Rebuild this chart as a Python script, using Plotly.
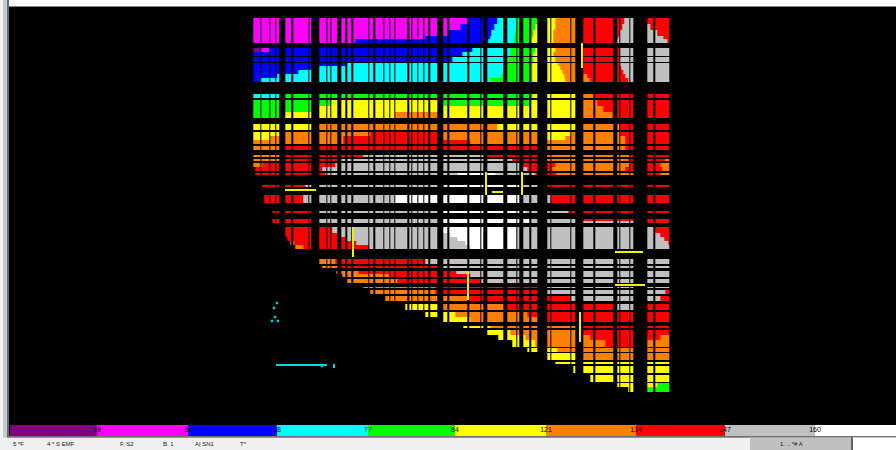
import plotly.graph_objects as go

# class ids of the map legend
P, M, B, C, G, Y, O, R, S, W = range(10)
N = None
class_colors = ["#800080", "#ff00ff", "#0000ff", "#00ffff", "#00ff00",
                "#ffff00", "#ff8000", "#ff0000", "#c0c0c0", "#ffffff"]

# grid cells along x and y (map units)
col_start = [253.3, 261.3, 270.7, 276.7, 285.3, 293.3, 309.3, 319.3, 327.3, 331.3, 341.3, 347.3, 353.3, 369.3,
             375.3, 384.7, 390.7, 395.3, 409.3, 412.7, 418.7, 424.7, 430, 443.3, 449.3, 469.3, 481.3, 487.3,
             507.3, 517.3, 523.3, 531.3, 547.3, 551.3, 571.3, 583.3, 595.3, 617.3, 620.7, 630.7, 647.3, 655]
col_end = [260, 269.3, 275.3, 279.3, 291.7, 308.3, 311.7, 326, 330, 337.7, 345.7, 351.7, 368.3, 373.7,
           383.7, 389.7, 394, 407.7, 411.7, 417.3, 423.3, 428.7, 437.7, 447.7, 467.7, 480, 483.3, 503.3,
           516, 519.3, 529.3, 537.3, 550, 570, 575.3, 593.3, 613.3, 619.3, 629.3, 633.3, 653.3, 669.5]
row_start = [18.3, 48.3, 57, 62.5, 94, 100, 124, 131.7, 145.7, 155.3, 159.3, 163.3, 173.3, 185.3, 195.3, 211,
             219, 227.3, 258.7, 266, 270.7, 278.7, 286.7, 290, 296, 304.3, 312, 326, 330, 348.3, 353.3, 362,
             366, 375.3, 383.3]
row_end = [42.7, 56, 61.7, 82, 98, 118, 130, 144, 150, 157.3, 161.3, 171.3, 175.3, 187.3, 203.3, 213.3,
           223.3, 249, 264, 268.3, 277.3, 282.7, 288.3, 294, 300.7, 310, 322, 328.3, 346.7, 351.7, 360, 364,
           373.3, 381.7, 391.7]

# class runs (class, run end) for each horizontal strip
strip_top = [18, 24, 30, 36, 39, 48, 52, 57, 62, 66, 70, 74, 78, 94, 100, 106, 112, 124, 131, 136, 140, 145,
             155, 159, 163, 167, 173, 185, 195, 211, 219, 221, 227, 233, 237, 241, 245, 258, 266, 270, 274, 278,
             286, 290, 296, 304, 312, 317, 326, 330, 335, 340, 348, 353, 362, 366, 375, 383, 387]
strip_bottom = strip_top[1:] + [392]
strip_runs = [
    [(M, 467), (B, 497), (C, 517), (G, 537), (Y, 555), (O, 580), (R, 624), (S, 640), (R, 671)],
    [(M, 460), (B, 494), (C, 517), (G, 535), (Y, 555), (O, 580), (R, 622), (S, 650), (R, 671)],
    [(M, 447), (B, 491), (C, 515), (G, 533), (Y, 553), (O, 580), (R, 620), (S, 657), (R, 671)],
    [(M, 425), (B, 490), (C, 514), (G, 532), (Y, 553), (O, 580), (R, 618), (S, 663), (R, 671)],
    [(M, 355), (B, 488), (C, 514), (G, 531), (Y, 553), (O, 580), (R, 617), (S, 667), (R, 671)],
    [(P, 261), (M, 270), (B, 472), (C, 510), (G, 535), (Y, 555), (O, 580), (R, 620), (S, 671)],
    [(B, 462), (C, 510), (G, 533), (Y, 553), (O, 580), (R, 620), (S, 671)],
    [(B, 452), (C, 508), (G, 533), (Y, 555), (O, 580), (R, 620), (S, 671)],
    [(B, 347), (C, 507), (G, 532), (Y, 558), (O, 580), (R, 620), (S, 671)],
    [(B, 318), (C, 507), (G, 532), (Y, 560), (O, 580), (R, 621), (S, 671)],
    [(B, 298), (C, 506), (G, 532), (Y, 562), (O, 580), (R, 623), (S, 671)],
    [(B, 277), (C, 501), (G, 532), (Y, 564), (O, 587), (R, 625), (S, 671)],
    [(B, 260), (C, 490), (G, 532), (Y, 565), (O, 590), (R, 628), (S, 671)],
    [(C, 279), (G, 532), (Y, 580), (O, 595), (R, 671)],
    [(G, 330), (Y, 440), (G, 530), (Y, 580), (O, 597), (R, 671)],
    [(G, 312), (Y, 580), (O, 603), (R, 671)],
    [(G, 285), (Y, 395), (O, 440), (Y, 580), (O, 612), (R, 671)],
    [(Y, 315), (O, 497), (Y, 580), (O, 620), (R, 671)],
    [(Y, 282), (O, 370), (R, 438), (O, 545), (Y, 570), (O, 620), (R, 671)],
    [(Y, 270), (O, 343), (R, 440), (O, 545), (Y, 565), (O, 625), (R, 671)],
    [(O, 343), (R, 470), (O, 625), (R, 671)],
    [(O, 283), (R, 540), (O, 625), (R, 671)],
    [(O, 283), (R, 363), (S, 487), (R, 540), (O, 630), (R, 671)],
    [(O, 283), (R, 340), (S, 512), (R, 540), (O, 628), (R, 665), (O, 671)],
    [(O, 262), (R, 335), (S, 523), (R, 555), (O, 630), (R, 660), (O, 671)],
    [(N, 255), (R, 322), (S, 527), (R, 552), (O, 625), (R, 662), (O, 671)],
    [(N, 255), (R, 325), (S, 457), (W, 495), (S, 535), (R, 556), (O, 634), (R, 660), (O, 671)],
    [(N, 262), (R, 305), (S, 445), (W, 520), (S, 537), (R, 671)],
    [(N, 264), (R, 303), (S, 395), (W, 522), (S, 550), (R, 671)],
    [(N, 272), (R, 312), (S, 443), (W, 525), (S, 568), (R, 671)],
    [(N, 272), (R, 312), (S, 443), (W, 530), (S, 583), (R, 671)],
    [(N, 272), (R, 312), (S, 443), (W, 530), (S, 640), (R, 671)],
    [(N, 285), (R, 332), (S, 443), (W, 516), (S, 655), (R, 671)],
    [(N, 285), (R, 340), (S, 450), (W, 517), (S, 660), (R, 671)],
    [(N, 287), (R, 347), (S, 457), (W, 517), (S, 664), (R, 671)],
    [(N, 290), (O, 294), (R, 356), (S, 465), (W, 517), (S, 668), (R, 671)],
    [(N, 295), (O, 303), (R, 368), (S, 470), (W, 517), (S, 671)],
    [(N, 319), (O, 335), (R, 425), (S, 671)],
    [(N, 322), (O, 338), (R, 440), (S, 671)],
    [(N, 336), (O, 358), (R, 456), (S, 671)],
    [(N, 342), (O, 390), (R, 470), (S, 671)],
    [(N, 345), (O, 397), (R, 480), (S, 671)],
    [(N, 363), (O, 435), (R, 537), (S, 671)],
    [(N, 370), (O, 435), (R, 537), (S, 665), (R, 671)],
    [(N, 385), (O, 467), (R, 570), (S, 660), (R, 671)],
    [(N, 405), (Y, 437), (O, 505), (R, 615), (S, 640), (R, 671)],
    [(N, 425), (Y, 455), (O, 527), (R, 671)],
    [(N, 443), (Y, 470), (O, 537), (R, 671)],
    [(N, 463), (Y, 490), (O, 575), (R, 671)],
    [(N, 487), (Y, 510), (O, 575), (R, 671)],
    [(N, 498), (Y, 525), (O, 590), (R, 660), (O, 671)],
    [(N, 512), (Y, 535), (O, 605), (R, 634), (O, 671)],
    [(N, 527), (Y, 557), (O, 671)],
    [(N, 547), (Y, 575), (O, 671)],
    [(N, 555), (Y, 671)],
    [(N, 573), (Y, 671)],
    [(N, 590), (Y, 671)],
    [(N, 617), (Y, 657), (G, 671)],
    [(N, 628), (Y, 647), (G, 671)],
]

# isolated traces drawn on the map
yellow_x = [582, 582, N, 285, 316, N, 486, 486, N, 522, 522, N, 492, 503, N, 353, 353, N, 468, 468, N,
            615, 643, N, 615, 645, N, 580, 580]
yellow_y = [43, 68, N, 190, 190, N, 172, 195, N, 172, 195, N, 192, 192, N, 227, 257, N, 271, 300, N,
            252, 252, N, 285, 285, N, 312, 342]
cyan_x = [276, 327, N, 334, 334]
cyan_y = [365, 365, N, 364, 368]
cyan_dot_x = [277, 274, 275, 272, 278, 322]
cyan_dot_y = [303, 308, 317, 321, 321, 366]

# legend strip
legend_edges = [10, 97, 188, 277, 368, 455, 546, 636, 725, 815, 896]
legend_classes = [P, M, B, C, G, Y, O, R, S, W]
legend_tick_at = [97, 188, 277, 368, 455, 546, 636, 725, 815]
legend_ticks = ["18", "34", "18", "77", "84", "121", "134", "147", "160"]

# status bar text as far as it can be made out
status_at = [13, 47, 120, 163, 195, 240, 780]
status_text = ["5 *F", "4 * S EMF", "F, S2", "B. 1", "A| SN1", "T*", "1. .. *# A"]


def inside(v, starts, ends):
    return any(a <= v < b for a, b in zip(starts, ends))


def class_at(x, y):
    for top, bottom, runs in zip(strip_top, strip_bottom, strip_runs):
        if top <= y < bottom:
            for cls, end in runs:
                if x < end:
                    return cls
    return None


x_edges = sorted(set(col_start + col_end + [e for runs in strip_runs for _, e in runs]))
y_edges = sorted(set(row_start + row_end + strip_top + strip_bottom))
z = []
for y0, y1 in zip(y_edges[:-1], y_edges[1:]):
    yc = (y0 + y1) / 2
    row = []
    for x0, x1 in zip(x_edges[:-1], x_edges[1:]):
        xc = (x0 + x1) / 2
        on_grid = inside(xc, col_start, col_end) and inside(yc, row_start, row_end)
        row.append(class_at(xc, yc) if on_grid else None)
    z.append(row)

scale = []
for i, c in enumerate(class_colors):
    scale += [[i / 10, c], [(i + 1) / 10, c]]

fig = go.Figure()
fig.add_trace(go.Heatmap(x=x_edges, y=y_edges, z=z, colorscale=scale, zmin=-0.5, zmax=9.5,
                         showscale=False, hoverongaps=False))
fig.add_trace(go.Heatmap(x=legend_edges, y=[425, 435.5], z=[legend_classes], colorscale=scale, zmin=-0.5,
                         zmax=9.5, showscale=False))
fig.add_trace(go.Scatter(x=yellow_x, y=yellow_y, mode="lines", line=dict(color="#f0f000", width=2),
                         showlegend=False))
fig.add_trace(go.Scatter(x=cyan_x, y=cyan_y, mode="lines", line=dict(color="#00dcdc", width=2),
                         showlegend=False))
fig.add_trace(go.Scatter(x=cyan_dot_x, y=cyan_dot_y, mode="markers",
                         marker=dict(color="#00c8c8", size=2.5, symbol="square"), showlegend=False))
fig.add_trace(go.Scatter(x=legend_tick_at, y=[430.2] * len(legend_tick_at), mode="text", text=legend_ticks,
                         textfont=dict(size=7, color="#000000", family="Liberation Sans"), showlegend=False))
fig.add_trace(go.Scatter(x=status_at, y=[444] * len(status_at), mode="text", text=status_text,
                         textposition="middle right",
                         textfont=dict(size=6, color="#202020", family="Liberation Sans"), showlegend=False))

frame = [
    (0, 0, 896, 6.5, "#ffffff"),
    (0, 0, 3, 450, "#f4f4f4"),
    (3, 0, 7, 450, "#c8c8c8"),
    (7, 0, 9, 437, "#607080"),
    (7, 435.5, 896, 437.5, "#707070"),
    (0, 437.5, 896, 450, "#f0f0f0"),
    (750, 437.5, 851, 450, "#c0c0c0"),
    (851, 437.5, 853, 450, "#606060"),
    (853, 437.5, 896, 450, "#ffffff"),
]
shapes = [dict(type="rect", xref="x", yref="y", x0=a, y0=b, x1=c, y1=d, fillcolor=col, line_width=0, layer="below")
          for a, b, c, d, col in frame]

fig.update_layout(
    width=896, height=450, margin=dict(l=0, r=0, t=0, b=0),
    paper_bgcolor="#000000", plot_bgcolor="#000000", shapes=shapes, showlegend=False,
    xaxis=dict(range=[0, 896], visible=False, fixedrange=True),
    yaxis=dict(range=[450, 0], visible=False, fixedrange=True),
)
fig.write_html("out.html", config={"displayModeBar": False}, post_script="document.body.style.margin='0';")
